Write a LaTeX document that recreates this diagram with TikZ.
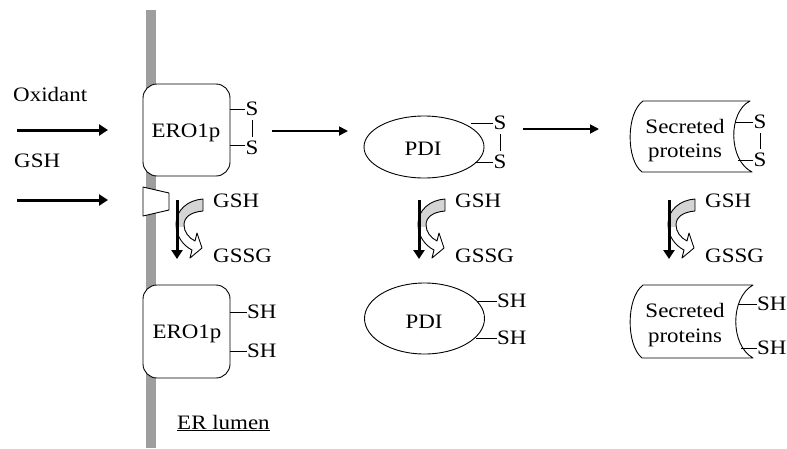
\documentclass[tikz,border=0pt]{standalone}
\usepackage{fontspec}
\setmainfont{Liberation Serif}
\usetikzlibrary{arrows.meta,shapes.geometric}

% curved GSH -> GSSG arrow, drawn beside a downward arrow at x = #1
\newcommand\redoxcycle[2]{%
  \begin{scope}[shift={(#1,0)}]
    \fill[white] (26,199) .. controls (11,200) and (-1,210) .. (-1,224)
      .. controls (-1,237) and (7,246) .. (15,250) -- (13,258) -- (25,248)
      -- (20,233) -- (18,241) .. controls (12,238) and (7,232) .. (7,225)
      .. controls (7,217) and (14,212) .. (26,211) -- cycle;
    \begin{scope}
      \clip (-5,195) rectangle (30,226);
      \fill[shade] (26,199) .. controls (11,200) and (-1,210) .. (-1,224)
        .. controls (-1,237) and (7,246) .. (15,250) -- (13,258) -- (25,248)
        -- (20,233) -- (18,241) .. controls (12,238) and (7,232) .. (7,225)
        .. controls (7,217) and (14,212) .. (26,211) -- cycle;
    \end{scope}
    \draw[thin line] (26,199) .. controls (11,200) and (-1,210) .. (-1,224)
      .. controls (-1,237) and (7,246) .. (15,250) -- (13,258) -- (25,248)
      -- (20,233) -- (18,241) .. controls (12,238) and (7,232) .. (7,225)
      .. controls (7,217) and (14,212) .. (26,211) -- cycle;
    \coordinate (#2top) at (0,200);
    \coordinate (#2bot) at (0,259);
    \draw[fatarrow] (#2top) -- (#2bot);
    \node[lbl, anchor=base west] (#2gsh) at (36,207) {GSH};
    \node[lbl, anchor=base west] (#2gssg) at (36,262) {GSSG};
  \end{scope}}

\begin{document}
\begin{tikzpicture}[x=1pt,y=-1pt,
  lbl/.style={font=\fontsize{20.5}{23}\selectfont, xscale=1.12, inner sep=0pt},
  thin line/.style={line width=0.9pt, line join=round},
  shade/.style={fill=black!17},
  erobox/.style={draw, thin line, fill=white, rounded corners=14pt,
    minimum width=87pt, minimum height=92pt, inner sep=0pt},
  pdishape/.style={draw, thin line, fill=white, ellipse,
    minimum width=120pt, inner sep=0pt},
  fatarrow/.style={line width=3pt, -{Triangle[length=9pt,width=11pt]}},
  slimarrow/.style={line width=1.8pt, -{Triangle[length=9pt,width=9pt]}},
  bond/.style={thin line}]

\useasboundingbox (0,0) rectangle (787,448);

% membrane
\fill[black!38] (146,10) rectangle (156,448);

% incoming oxidant and GSH
\node[lbl, anchor=base west] (oxtext) at (13,101) {Oxidant};
\node[lbl, anchor=base west] (gshtext) at (14,167) {GSH};
\coordinate (oxs) at (17,130);
\coordinate (oxe) at (108,130);
\coordinate (gss) at (17,200);
\coordinate (gse) at (108,200);
\draw[fatarrow] (oxs) -- (oxe);
\draw[fatarrow] (gss) -- (gse);

% transporter in the membrane
\draw[thin line, fill=white] (143,187) -- (169,193) -- (169,210) -- (143,216) -- cycle;

% ---------- oxidised forms ----------
\node[erobox] (eroA) at (186.5,130) {};
\node[lbl, anchor=base] (eroAt) at (186,137) {ERO1p};
\node[lbl] (sA1) at (252,109) {S};
\node[lbl] (sA2) at (252,148) {S};
\draw[bond] (eroA.east |- sA1) -- (sA1.west);
\draw[bond] (eroA.east |- 0,145) -- ++(15,0);
\draw[bond, shorten <=4pt, shorten >=4pt] (sA1.south) -- (sA2.north);

\node[pdishape, minimum height=62pt] (pdiA) at (424,147) {};
\node[lbl, anchor=base] (pdiAt) at (423,155) {PDI};
\node[lbl] (sB1) at (500,123) {S};
\node[lbl] (sB2) at (500,162) {S};
\draw[bond] (sB1.west) -- ++(-22,0);
\draw[bond] (sB2.west) -- ++(-18,0);
\draw[bond, shorten <=4pt, shorten >=4pt] (sB1.south) -- (sB2.north);

\draw[thin line, fill=white] (643,101) -- (750,101)
  .. controls (728,112) and (728,160) .. (752,172) -- (642,172)
  .. controls (626,160) and (626,113) .. (643,101);
\node[lbl, anchor=base] (secA1) at (685,133) {Secreted};
\node[lbl, anchor=base] (secA2) at (685,157) {proteins};
\node[lbl] (sC1) at (760,122) {S};
\node[lbl] (sC2) at (760,160) {S};
\draw[bond] (sC1.west) -- ++(-18,0);
\draw[bond] (sC2.west) -- ++(-15,0);
\draw[bond, shorten <=4pt, shorten >=4pt] (sC1.south) -- (sC2.north);

% electron transfer
\coordinate (t1s) at (272,131);
\coordinate (t1e) at (348,131);
\coordinate (t2s) at (523,129);
\coordinate (t2e) at (599,129);
\draw[slimarrow] (t1s) -- (t1e);
\draw[slimarrow] (t2s) -- (t2e);

% ---------- glutathione steps ----------
\redoxcycle{177}{ra}
\redoxcycle{419}{rb}
\redoxcycle{669}{rc}

% ---------- reduced forms ----------
\node[erobox, minimum height=93pt] (eroB) at (186.5,331.5) {};
\node[lbl, anchor=base] (eroBt) at (187,338) {ERO1p};
\node[lbl, anchor=west] (shA1) at (247,312) {SH};
\node[lbl, anchor=west] (shA2) at (247,351) {SH};
\draw[bond] (eroB.east |- shA1) -- (shA1.west);
\draw[bond] (eroB.east |- shA2) -- (shA2.west);

\node[pdishape, minimum height=71pt] (pdiB) at (424.5,318.5) {};
\node[lbl, anchor=base] (pdiBt) at (424,328) {PDI};
\node[lbl, anchor=west] (shB1) at (497,301) {SH};
\node[lbl, anchor=west] (shB2) at (497,338) {SH};
\draw[bond] (shB1.west) -- ++(-20,0);
\draw[bond] (shB2.west) -- ++(-21,0);

\draw[thin line, fill=white] (643,285) -- (753,285)
  .. controls (730,298) and (730,345) .. (753,358) -- (642,358)
  .. controls (626,345) and (626,298) .. (643,285);
\node[lbl, anchor=base] (secB1) at (685,317) {Secreted};
\node[lbl, anchor=base] (secB2) at (685,342) {proteins};
\node[lbl, anchor=west] (shC1) at (757,304) {SH};
\node[lbl, anchor=west] (shC2) at (757,348) {SH};
\draw[bond] (shC1.west) -- ++(-19,0);
\draw[bond] (shC2.west) -- ++(-16,0);

\node[lbl, anchor=base west] (lumen) at (177,429) {\underline{ER lumen}};

\end{tikzpicture}
\end{document}
